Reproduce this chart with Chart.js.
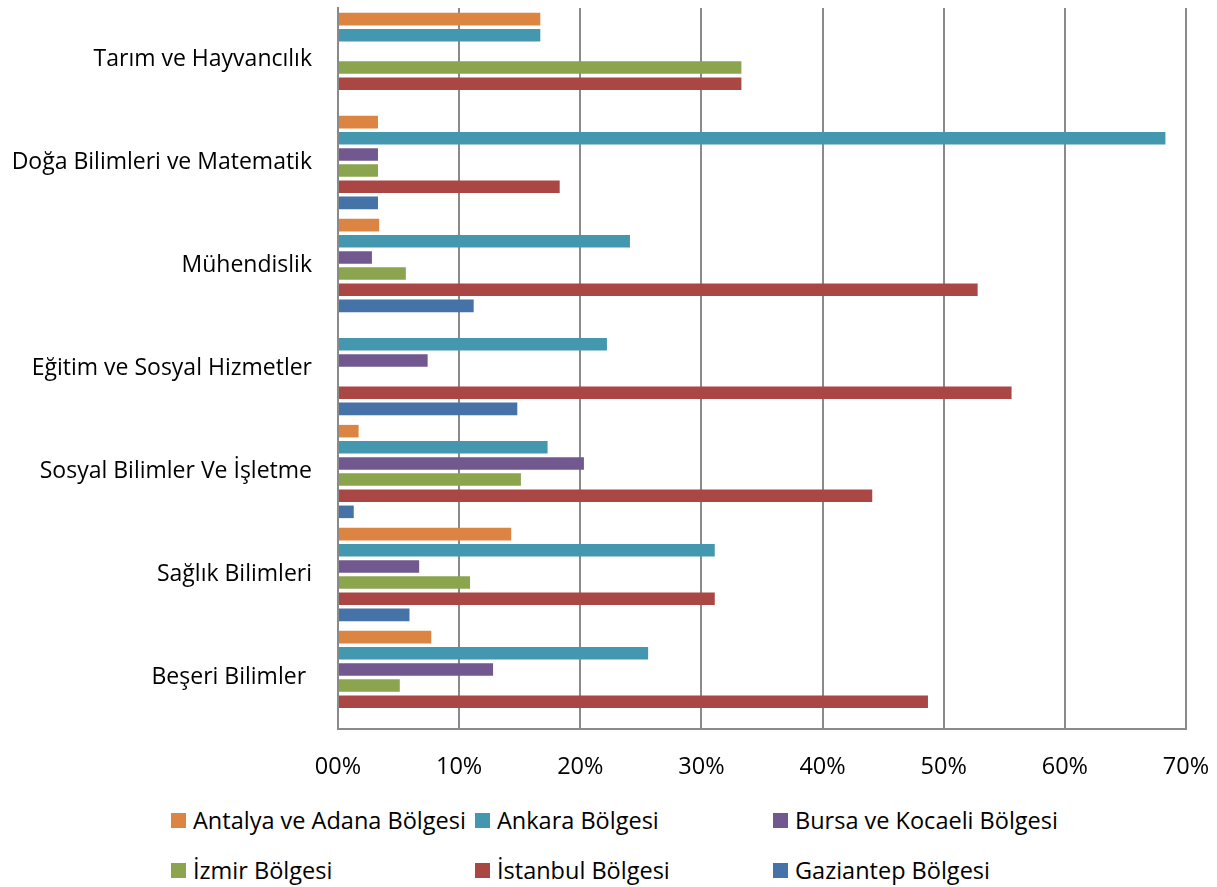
<!DOCTYPE html>
<html>
<head>
<meta charset="utf-8">
<script src="https://cdn.jsdelivr.net/npm/chart.js@4.4.0/dist/chart.umd.min.js"></script>
<style>
  body { margin: 0; background: #fff; }
  #wrap { position: relative; width: 1217px; height: 887px; }
  #myChart { position: absolute; left: 0; top: 0; }
  .lg { position: absolute; font: 23.5px "Open Sans", sans-serif; color: #000; white-space: nowrap; display: flex; align-items: center; height: 30px; }
  .lg .box { width: 15px; height: 15px; display: inline-block; margin-right: 7px; }
</style>
</head>
<body>
<div id="wrap">
  <canvas id="myChart" width="1217" height="800"></canvas>
  <div id="legend"></div>
</div>
<script>
const categories = [
  "Tarım ve Hayvancılık",
  "Doğa Bilimleri ve Matematik",
  "Mühendislik",
  "Eğitim ve Sosyal Hizmetler",
  "Sosyal Bilimler Ve İşletme",
  "Sağlık Bilimleri",
  "Beşeri Bilimler "
];

const seriesNames = [
  "Antalya ve Adana Bölgesi",
  "Ankara Bölgesi",
  "Bursa ve Kocaeli Bölgesi",
  "İzmir Bölgesi",
  "İstanbul Bölgesi",
  "Gaziantep Bölgesi"
];

// percent values, one per category (top to bottom)
const antalya   = [16.7, 3.3, 3.4, 0, 1.7, 14.3, 7.7];
const ankara    = [16.7, 68.3, 24.1, 22.2, 17.3, 31.1, 25.6];
const bursa     = [0, 3.3, 2.8, 7.4, 20.3, 6.7, 12.8];
const izmir     = [33.3, 3.3, 5.6, 0, 15.1, 10.9, 5.1];
const istanbul  = [33.3, 18.3, 52.8, 55.6, 44.1, 31.1, 48.7];
const gaziantep = [0, 3.3, 11.2, 14.8, 1.3, 5.9, 0];

const xTicks = [0, 10, 20, 30, 40, 50, 60, 70];

const colors = ["#DC8542", "#4398AF", "#71598F", "#8AA54E", "#AA4644", "#4572A7"];
const seriesValues = [antalya, ankara, bursa, izmir, istanbul, gaziantep];

const gridColor = "#8a8a8a";

const ctx = document.getElementById("myChart").getContext("2d");

const data = {
  labels: categories,
  datasets: seriesNames.map((name, i) => ({
    label: name,
    data: seriesValues[i],
    backgroundColor: colors[i],
    barPercentage: 0.78,
    categoryPercentage: 0.94
  }))
};

const config = {
  type: "bar",
  data: data,
  options: {
    indexAxis: "y",
    responsive: false,
    animation: false,
    layout: { padding: { top: 8, right: 31, left: 0, bottom: 0 } },
    plugins: {
      legend: { display: false },
      tooltip: { enabled: false }
    },
    scales: {
      x: {
        min: 0,
        max: 70,
        afterBuildTicks: (scale) => {
          scale.ticks = xTicks.map(v => ({ value: v }));
        },
        afterFit: (scale) => { scale.height = 71; },
        ticks: {
          color: "#000",
          padding: 0,
          font: { family: "Open Sans", size: 23.5 },
          callback: function (value) {
            return (value === 0 ? "00" : value) + "%";
          }
        },
        // invisible tick marks just push the labels away from the axis
        grid: { color: gridColor, lineWidth: 2, drawTicks: true, tickLength: 24, tickColor: "rgba(0,0,0,0)" },
        border: { display: true, color: gridColor, width: 2 }
      },
      y: {
        afterFit: (scale) => {
          scale.width = 338;
          scale.paddingTop = 0;
          scale.paddingBottom = 0;
        },
        ticks: {
          color: "#000",
          padding: 0,
          font: { family: "Open Sans", size: 23 }
        },
        grid: { display: true, drawOnChartArea: false, color: "rgba(0,0,0,0)", drawTicks: true, tickLength: 26, tickColor: "rgba(0,0,0,0)" },
        border: { display: true, color: gridColor, width: 2 }
      }
    }
  }
};

const myChart = new Chart(ctx, config);

// grid-style legend below the chart
const legendCols = [171, 475, 773];
const legendRows = [820, 870];
const legend = document.getElementById("legend");
seriesNames.forEach((name, i) => {
  const item = document.createElement("div");
  item.className = "lg";
  item.style.left = legendCols[i % 3] + "px";
  item.style.top = (legendRows[Math.floor(i / 3)] - 15) + "px";
  const box = document.createElement("span");
  box.className = "box";
  box.style.background = colors[i];
  item.appendChild(box);
  item.appendChild(document.createTextNode(name));
  legend.appendChild(item);
});
</script>
</body>
</html>
